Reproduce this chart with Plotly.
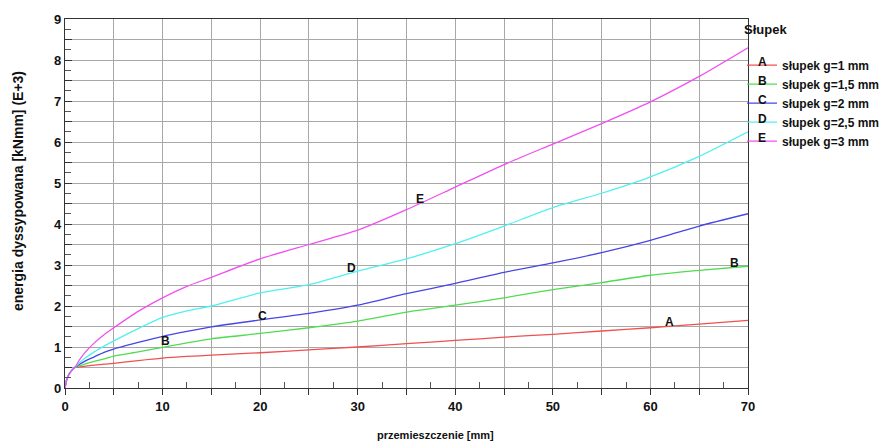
import numpy as np
import plotly.graph_objects as go

# ---- data ----
x_vals = [0, 0.15, 0.4, 0.7, 1.0, 1.5, 2, 3, 4, 5, 7.5, 10, 12.5, 15, 20, 25, 30, 35, 40, 45, 50, 55, 60, 65, 70]

A_vals = [0, 0.18, 0.33, 0.43, 0.5, 0.515, 0.53, 0.56, 0.58, 0.60, 0.67, 0.73, 0.77, 0.80, 0.86, 0.93, 1.00, 1.08, 1.16, 1.24, 1.31, 1.39, 1.47, 1.56, 1.65]
B_vals = [0, 0.18, 0.33, 0.43, 0.5, 0.54, 0.58, 0.65, 0.71, 0.78, 0.88, 0.99, 1.10, 1.20, 1.33, 1.47, 1.63, 1.85, 2.02, 2.20, 2.40, 2.57, 2.75, 2.87, 2.97]
C_vals = [0, 0.18, 0.33, 0.43, 0.5, 0.58, 0.65, 0.76, 0.87, 0.95, 1.11, 1.26, 1.38, 1.49, 1.66, 1.82, 2.02, 2.30, 2.55, 2.82, 3.05, 3.30, 3.60, 3.95, 4.25]
D_vals = [0, 0.18, 0.33, 0.43, 0.5, 0.62, 0.72, 0.88, 1.02, 1.15, 1.45, 1.72, 1.88, 2.00, 2.32, 2.52, 2.85, 3.15, 3.52, 3.95, 4.40, 4.75, 5.15, 5.65, 6.25]
E_vals = [0, 0.18, 0.33, 0.43, 0.5, 0.69, 0.85, 1.10, 1.30, 1.47, 1.87, 2.20, 2.48, 2.70, 3.15, 3.50, 3.85, 4.35, 4.90, 5.45, 5.95, 6.45, 6.98, 7.60, 8.30]

series_names = ["słupek g=1 mm", "słupek g=1,5 mm", "słupek g=2 mm", "słupek g=2,5 mm", "słupek g=3 mm"]
series_letters = ["A", "B", "C", "D", "E"]
series_values = [A_vals, B_vals, C_vals, D_vals, E_vals]
series_colors = ["#f05050", "#50dc50", "#4646e6", "#50f0f0", "#f050f0"]

# curve labels inside the plot: (letter, x, y)
label_letters = ["A", "B", "B", "C", "D", "E"]
label_x = [62, 68.6, 10.3, 20.2, 29.4, 36.4]
label_y = [1.60, 3.05, 1.15, 1.76, 2.93, 4.62]

x_tick_vals = list(range(0, 75, 5))
x_tick_text = ["<b>%d</b>" % v if v % 10 == 0 else "" for v in x_tick_vals]
y_tick_vals = [v / 2 for v in range(0, 19)]
y_tick_text = ["<b>%d</b>" % int(v) if v == int(v) else "" for v in y_tick_vals]

FONT = "Liberation Sans, Arial, sans-serif"
W, H = 882, 446

# plot-area geometry in pixels (used for paper-coordinate annotations)
L, R, T, B = 65, 748, 19, 388
PW, PH = R - L, B - T

fig = go.Figure()
for name, vals, col in zip(series_names, series_values, series_colors):
    fig.add_trace(go.Scatter(
        x=x_vals, y=vals, mode="lines", name=name,
        line=dict(color=col, width=1.3, shape="spline", smoothing=0.6),
    ))

for t, lx, ly in zip(label_letters, label_x, label_y):
    fig.add_annotation(x=lx, y=ly, text="<b>%s</b>" % t, showarrow=False,
                       xanchor="center", yanchor="middle",
                       font=dict(family=FONT, size=12, color="#111"))

# letters over the legend line samples
legend_row_px = [62, 81, 100, 119, 138]
for t, py in zip(series_letters, legend_row_px):
    fig.add_annotation(xref="paper", yref="paper", x=(762 - L) / PW, y=1 - (py - T) / PH,
                       xanchor="center", yanchor="middle",
                       text="<b>%s</b>" % t, showarrow=False,
                       font=dict(family=FONT, size=12, color="#111"))

grid_col = "#a8a8a8"
fig.update_xaxes(
    range=[0, 70], tickmode="array", tickvals=x_tick_vals, ticktext=x_tick_text,
    ticks="outside", ticklen=6, tickcolor="#333", showgrid=True, gridcolor=grid_col, gridwidth=1,
    showline=True, linecolor="#333", linewidth=1.2, mirror=True, zeroline=False,
    minor=dict(tickmode="array", tickvals=list(np.arange(2.5, 70, 5)), ticks="inside",
               ticklen=6, tickcolor="#555", showgrid=False),
    tickfont=dict(family=FONT, size=13, color="#111"),
)
fig.update_yaxes(
    range=[0, 9], tickmode="array", tickvals=y_tick_vals, ticktext=y_tick_text,
    ticks="inside", ticklen=7, tickcolor="#333", showgrid=True, gridcolor=grid_col, gridwidth=1,
    showline=True, linecolor="#333", linewidth=1.2, mirror=True, zeroline=False,
    minor=dict(tickmode="array", tickvals=list(np.arange(0.25, 9, 0.5)), ticks="inside",
               ticklen=6, tickcolor="#555", showgrid=False),
    tickfont=dict(family=FONT, size=13, color="#111"),
)

fig.add_annotation(xref="paper", yref="paper", x=(435 - L) / PW, y=-(435 - B) / PH,
                   xanchor="center", yanchor="middle",
                   text="<b>przemieszczenie [mm]</b>", showarrow=False,
                   font=dict(family=FONT, size=11, color="#111"))
fig.add_annotation(xref="paper", yref="paper", x=-(L - 18) / PW, y=1 - (191 - T) / PH, textangle=-90,
                   xanchor="center", yanchor="middle",
                   text="<b>energia dyssypowana [kNmm] (E+3)</b>", showarrow=False,
                   font=dict(family=FONT, size=14, color="#111"))

fig.update_layout(
    width=W, height=H, autosize=False,
    margin=dict(l=L, r=W - R, t=T, b=H - B, autoexpand=False),
    paper_bgcolor="white", plot_bgcolor="white",
    font=dict(family=FONT, color="#111"),
    legend=dict(
        xref="container", yref="paper",
        x=742 / W, y=1.006, xanchor="left", yanchor="top",
        title=dict(text="<b>Słupek</b><br> ", font=dict(family=FONT, size=13)),
        font=dict(family=FONT, size=12, color="#111", weight="bold"),
        itemwidth=30, tracegroupgap=0, bgcolor="rgba(0,0,0,0)",
    ),
)

fig.write_html(
    "out.html",
    config={"responsive": False, "displayModeBar": False},
    default_width="882px", default_height="446px",
    post_script="document.body.style.margin='0';document.body.style.overflow='hidden';",
)
